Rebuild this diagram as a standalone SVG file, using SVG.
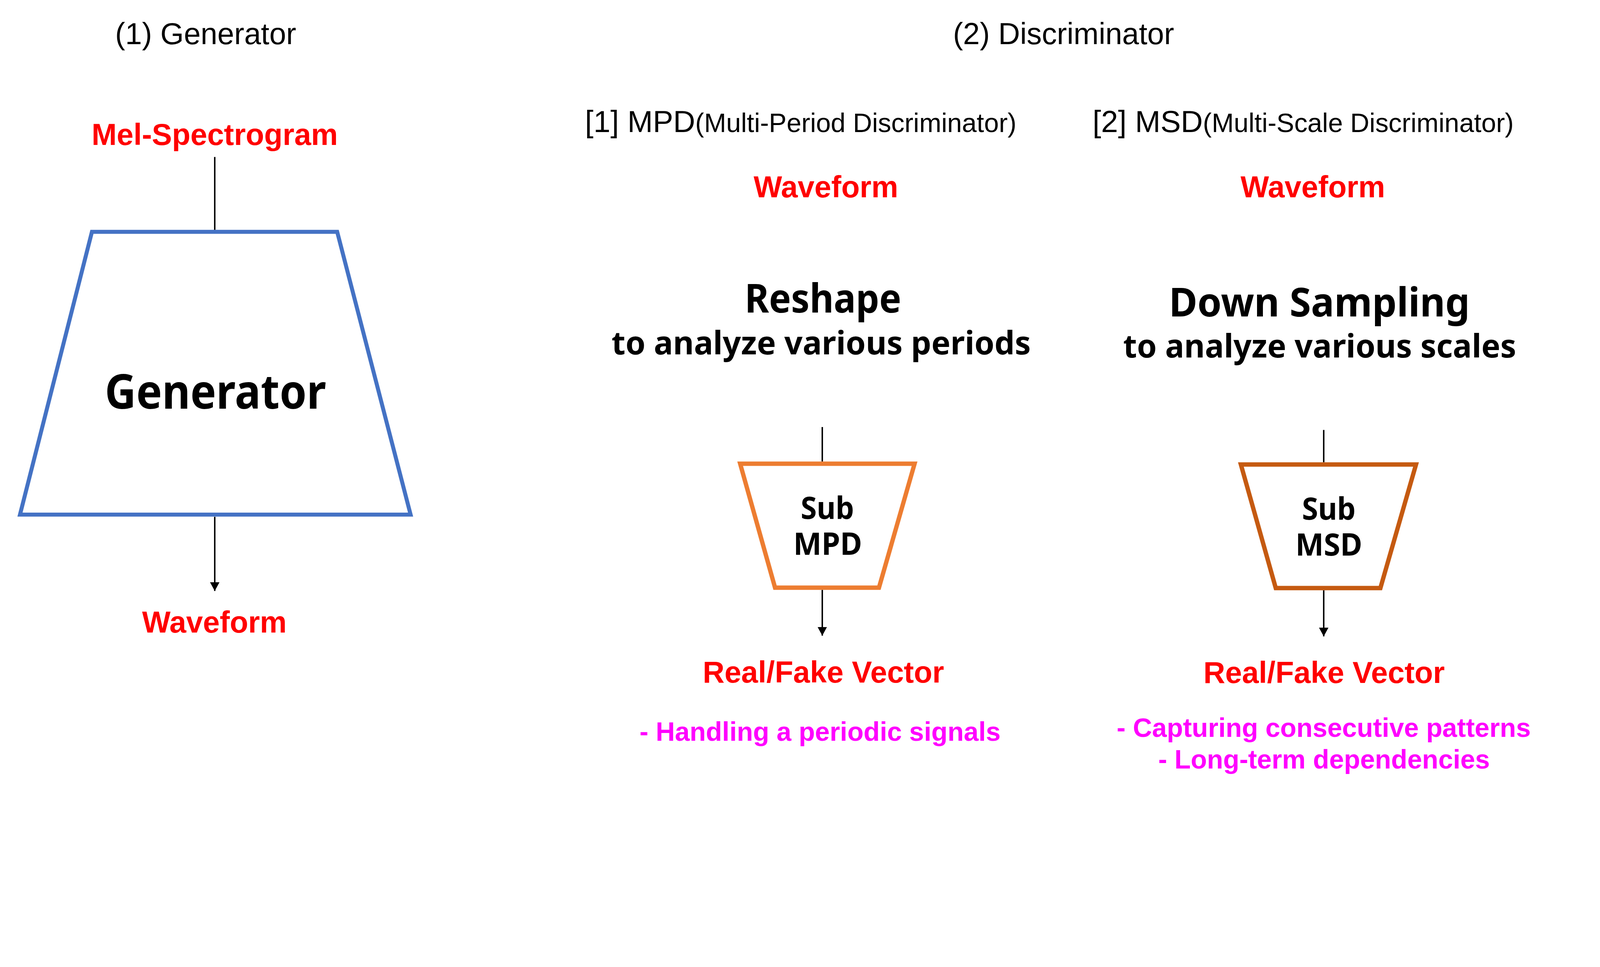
<svg xmlns="http://www.w3.org/2000/svg" width="4400" height="2475" viewBox="0 0 4400 2475">
<defs>
<style>
.hd{font-family:"Liberation Sans",Arial,sans-serif;fill:#000;}
.red{font-family:"Liberation Sans",Arial,sans-serif;font-weight:bold;fill:#FF0000;font-size:83px;text-anchor:middle;}
.mag{font-family:"Liberation Sans",Arial,sans-serif;font-weight:bold;fill:#FF00FF;font-size:73px;text-anchor:middle;}
.mg{font-family:"Noto Sans","Noto Sans CJK KR",sans-serif;font-weight:bold;fill:#000;text-anchor:middle;}
.conn{stroke:#000;stroke-width:4;fill:none;}
.trap{fill:#FFFFFF;stroke-linejoin:miter;}
</style>
<marker id="arr" markerUnits="userSpaceOnUse" markerWidth="30" markerHeight="30" refX="24" refY="13" orient="auto">
<path d="M0,0 L24,13 L0,26 z" fill="#000"/>
</marker>
</defs>
<rect width="4400" height="2475" fill="#FFFFFF"/>
<g id="diagram" transform="scale(0.9302)">

<g id="titles">
<text class="hd" x="566" y="121" font-size="83" text-anchor="middle">(1) Generator</text>
<text class="hd" x="2927" y="121" font-size="83" text-anchor="middle">(2) Discriminator</text>
<text class="hd" x="1610" y="363" font-size="84"><tspan>[1] MPD</tspan><tspan font-size="73">(Multi-Period Discriminator)</tspan></text>
<text class="hd" x="3007" y="363" font-size="84"><tspan>[2] MSD</tspan><tspan font-size="73">(Multi-Scale Discriminator)</tspan></text>
</g>

<g id="connectors">
<line class="conn" x1="591" y1="432" x2="591" y2="633"/>
<line class="conn" x1="591" y1="1422" x2="591" y2="1626" marker-end="url(#arr)"/>
<line class="conn" x1="2263" y1="1175" x2="2263" y2="1270"/>
<line class="conn" x1="2263" y1="1623" x2="2263" y2="1749" marker-end="url(#arr)"/>
<line class="conn" x1="3643" y1="1183" x2="3643" y2="1272"/>
<line class="conn" x1="3643" y1="1624" x2="3643" y2="1751" marker-end="url(#arr)"/>
</g>

<g id="generator-input">
<text class="red" x="591" y="399">Mel-Spectrogram</text>
</g>

<g id="generator">
<path class="trap" d="M253,638 L928,638 L1130,1416 L55,1416 Z" stroke="#4472C4" stroke-width="11"/>
<text class="mg" x="593" y="1124" font-size="132" textLength="609" lengthAdjust="spacingAndGlyphs">Generator</text>
</g>

<g id="generator-output">
<text class="red" x="590" y="1741">Waveform</text>
</g>

<g id="mpd-input">
<text class="red" x="2273" y="543">Waveform</text>
</g>

<g id="mpd-reshape">
<text class="mg" x="2265" y="860" font-size="110" textLength="431" lengthAdjust="spacingAndGlyphs">Reshape</text>
<text class="mg" x="2260" y="975" font-size="88" textLength="1154" lengthAdjust="spacingAndGlyphs">to analyze various periods</text>
</g>

<g id="sub-mpd">
<path class="trap" d="M2037,1276 L2517,1276 L2419,1617 L2133,1617 Z" stroke="#ED7D31" stroke-width="12"/>
<text class="mg" x="2277" y="1428" font-size="84" textLength="147" lengthAdjust="spacingAndGlyphs">Sub</text>
<text class="mg" x="2278" y="1527" font-size="84" textLength="189" lengthAdjust="spacingAndGlyphs">MPD</text>
</g>

<g id="mpd-output">
<text class="red" x="2266" y="1878">Real/Fake Vector</text>
<text class="mag" x="2257" y="2038">- Handling a periodic signals</text>
</g>

<g id="msd-input">
<text class="red" x="3613" y="543">Waveform</text>
</g>

<g id="msd-downsampling">
<text class="mg" x="3631" y="871" font-size="110" textLength="828" lengthAdjust="spacingAndGlyphs">Down Sampling</text>
<text class="mg" x="3632" y="984" font-size="88" textLength="1082" lengthAdjust="spacingAndGlyphs">to analyze various scales</text>
</g>

<g id="sub-msd">
<path class="trap" d="M3415,1278 L3897,1278 L3799,1618 L3511,1618 Z" stroke="#C55A11" stroke-width="12"/>
<text class="mg" x="3657" y="1430" font-size="84" textLength="148" lengthAdjust="spacingAndGlyphs">Sub</text>
<text class="mg" x="3657" y="1529" font-size="84" textLength="184" lengthAdjust="spacingAndGlyphs">MSD</text>
</g>

<g id="msd-output">
<text class="red" x="3644" y="1879">Real/Fake Vector</text>
<text class="mag" x="3643" y="2027">- Capturing consecutive patterns</text>
<text class="mag" x="3644" y="2115">- Long-term dependencies</text>
</g>
</g>
</svg>
